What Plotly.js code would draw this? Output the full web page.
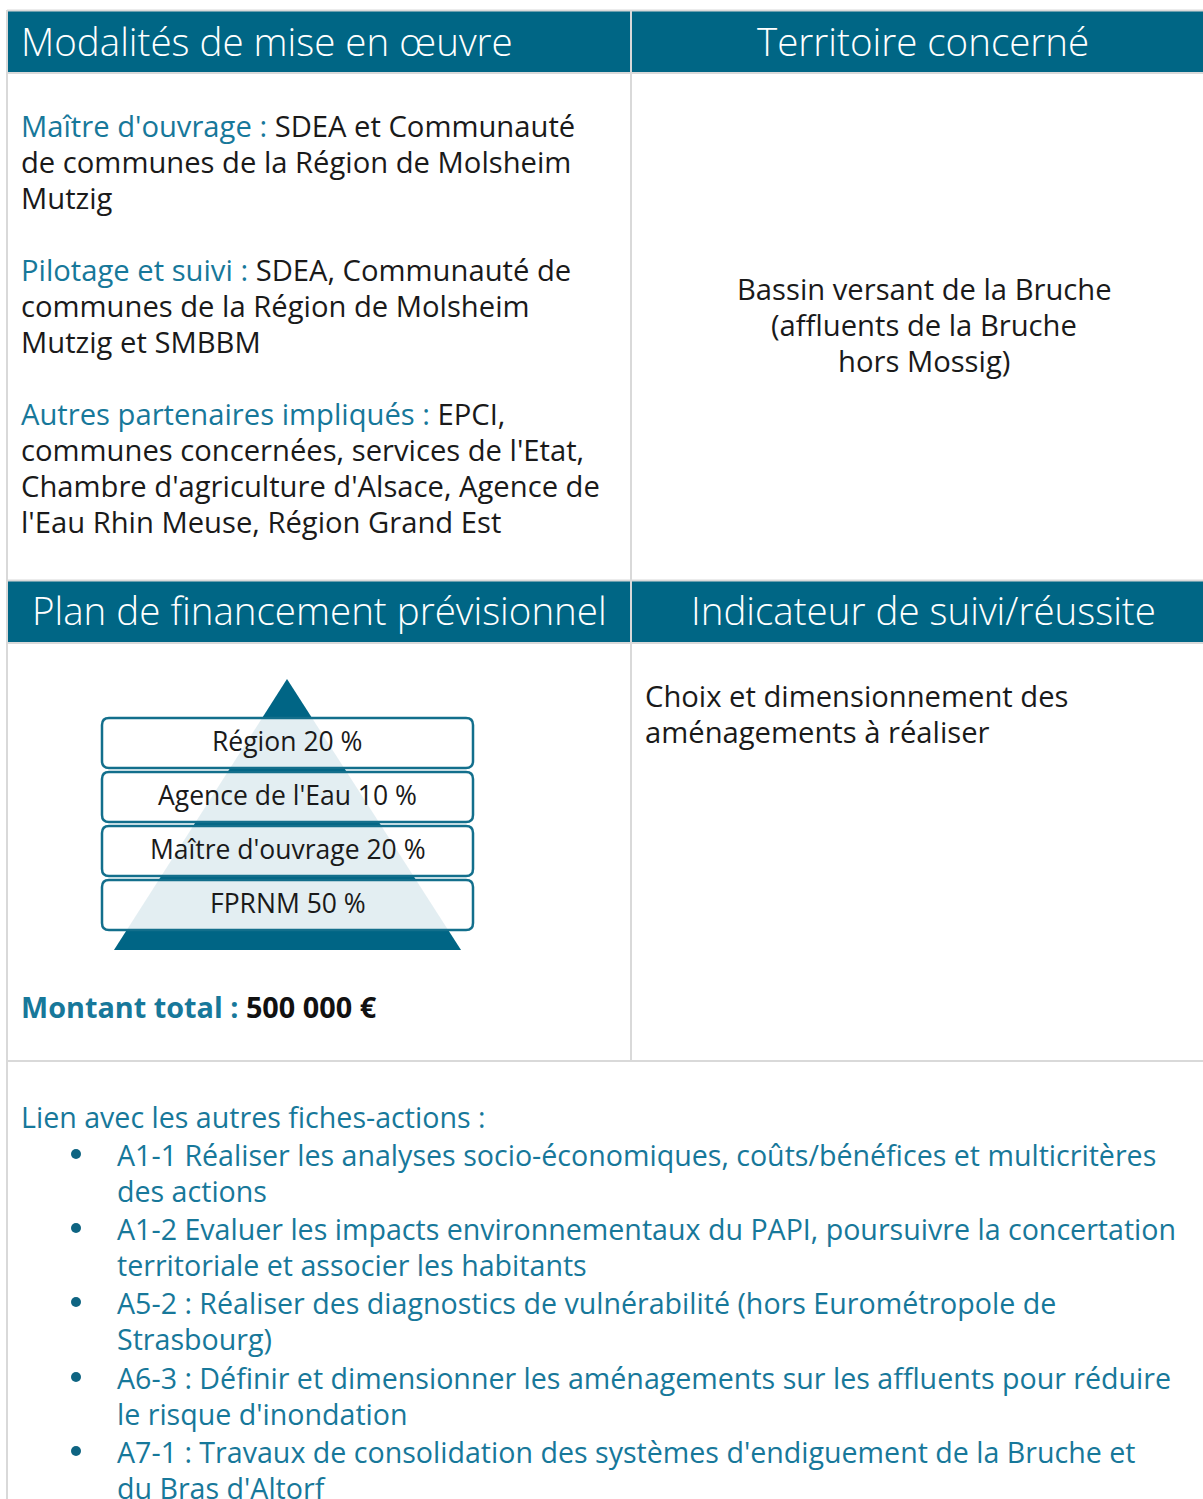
<!DOCTYPE html>
<html>
<head>
<meta charset="utf-8">
<script src="https://cdn.plot.ly/plotly-3.0.1.min.js"></script>
<style>
html,body{margin:0;padding:0;background:#fff;}
#chart{width:1203px;height:1499px;}
</style>
</head>
<body>
<div id="chart"></div>
<script>
// ---- data ----
const funders = ["Région", "Agence de l'Eau", "Maître d'ouvrage", "FPRNM"];
const shares = [20, 10, 20, 50];
const totalAmount = "500 000 €";
const headers = ["Modalités de mise en œuvre", "Territoire concerné", "Plan de financement prévisionnel", "Indicateur de suivi/réussite"];
const roleLabels = ["Maître d'ouvrage :", "Pilotage et suivi :", "Autres partenaires impliqués :"];
const roleTexts = [
  "SDEA et Communauté<br>de communes de la Région de Molsheim<br>Mutzig",
  "SDEA, Communauté de<br>communes de la Région de Molsheim<br>Mutzig et SMBBM",
  "EPCI,<br>communes concernées, services de l'Etat,<br>Chambre d'agriculture d'Alsace, Agence de<br>l'Eau Rhin Meuse, Région Grand Est"
];
const territory = "Bassin versant de la Bruche<br>(affluents de la Bruche<br>hors Mossig)";
const indicator = "Choix et dimensionnement des<br>aménagements à réaliser";
const linksTitle = "Lien avec les autres fiches-actions :";
const links = [
  "A1-1 Réaliser les analyses socio-économiques, coûts/bénéfices et multicritères<br>des actions",
  "A1-2 Evaluer les impacts environnementaux du PAPI, poursuivre la concertation<br>territoriale et associer les habitants",
  "A5-2 : Réaliser des diagnostics de vulnérabilité (hors Eurométropole de<br>Strasbourg)",
  "A6-3 : Définir et dimensionner les aménagements sur les affluents pour réduire<br>le risque d'inondation",
  "A7-1 : Travaux de consolidation des systèmes d'endiguement de la Bruche et<br>du Bras d'Altorf"
];

// ---- style ----
const HEAD = "#006685";
const TEAL = "#17789a";
const GRID = "#d9d9d9";
const FONT = "Open Sans, Lato, sans-serif";
const BODY = 29.2;
const LIST = 28.6;
const LH = 36;
const W = 1203, H = 1499;
const colL = 7, colM = 631;

const shapes = [];
const ann = [];

function rect(x0, y0, x1, y1, fill) {
  shapes.push({type: "rect", xref: "x", yref: "y", x0, y0, x1, y1,
    fillcolor: fill, line: {width: 0}, layer: "above"});
}
function line(x0, y0, x1, y1, c, w) {
  shapes.push({type: "line", xref: "x", yref: "y", x0, y0, x1, y1, line: {color: c, width: w}, layer: "above"});
}
function text(x, y, t, opts) {
  const o = Object.assign({xanchor: "left"}, opts || {});
  const dx = o.xanchor === "left" ? -3 : 0;
  ann.push(Object.assign({xref: "x", yref: "y", x: x + dx, y, text: t, showarrow: false,
    yanchor: "middle", align: "left",
    font: {family: FONT, size: BODY, color: "#1a1a1a"}}, o, {x: x + dx}));
}
function lines(x, y, t, opts) {
  t.split("<br>").forEach((s, i) => { if (s.length) text(x, y + i * LH, s, opts); });
}

// header bars
rect(colL, 11, W + 20, 72, HEAD);
rect(colL, 581, W + 20, 642, HEAD);
// grid lines
line(colL, 10.5, W + 20, 10.5, GRID, 2);
line(colL, 73, W + 20, 73, GRID, 2);
line(colL, 580.5, W + 20, 580.5, GRID, 2);
line(colL, 643, W + 20, 643, GRID, 2);
line(colL, 1061, W + 20, 1061, GRID, 2);
line(colL, 10, colL, H + 10, GRID, 2);
line(colM, 10, colM, 1061, GRID, 2);

// headers
const hFont = {family: FONT, size: 38.5, color: "#ffffff", weight: 300};
text(22, 41, headers[0], {font: hFont});
text(923, 41, headers[1], {font: hFont, xanchor: "center", align: "center"});
text(319, 610, headers[2], {font: hFont, xanchor: "center", align: "center"});
text(923, 610, headers[3], {font: hFont, xanchor: "center", align: "center"});

// body - left top
const blocks = roleLabels.map((l, i) => '<span style="color:' + TEAL + '">' + l + '</span> ' + roleTexts[i]);
lines(22, 126, blocks.join("<br><br>"));
// right top
lines(924, 289, territory, {xanchor: "center", align: "center"});
// right middle
lines(646, 696, indicator);

// pyramid
const apex = [287, 679], baseY = 950, baseL = 114, baseR = 461;
const boxTop = 718, boxH = 50, boxGap = 4, boxL = 102, boxR = 473, rad = 7;
function rrPath(x0, y0, x1, y1, r) {
  return `M ${x0 + r},${y0} L ${x1 - r},${y0} Q ${x1},${y0} ${x1},${y0 + r} L ${x1},${y1 - r} Q ${x1},${y1} ${x1 - r},${y1} L ${x0 + r},${y1} Q ${x0},${y1} ${x0},${y1 - r} L ${x0},${y0 + r} Q ${x0},${y0} ${x0 + r},${y0} Z`;
}
const triPath = `M ${apex[0]},${apex[1]} L ${baseR},${baseY} L ${baseL},${baseY} Z`;
shapes.push({type: "path", xref: "x", yref: "y", path: triPath, fillcolor: HEAD, line: {width: 0}, layer: "above"});
funders.forEach((f, i) => {
  const y0 = boxTop + i * (boxH + boxGap), y1 = y0 + boxH;
  shapes.push({type: "path", xref: "x", yref: "y", path: rrPath(boxL, y0, boxR, y1, rad), fillcolor: "#ffffff", line: {width: 0}, layer: "above"});
});
shapes.push({type: "path", xref: "x", yref: "y", path: triPath, fillcolor: "rgba(0,102,133,0.11)", line: {width: 0}, layer: "above"});
funders.forEach((f, i) => {
  const y0 = boxTop + i * (boxH + boxGap), y1 = y0 + boxH;
  shapes.push({type: "path", xref: "x", yref: "y", path: rrPath(boxL, y0, boxR, y1, rad), fillcolor: "rgba(0,0,0,0)", line: {color: "#136f8c", width: 2.5}, layer: "above"});
  text((boxL + boxR) / 2, (y0 + y1) / 2 - 2, f + " " + shares[i] + " %", {xanchor: "center", align: "center", font: {family: FONT, size: 26.5, color: "#1a1a1a"}});
});

text(22, 1006, '<span style="color:' + TEAL + '"><b>Montant total :</b></span> <b>' + totalAmount + '</b>', {font: {family: FONT, size: 28.8, color: "#111111"}});

// links
text(22, 1116, linksTitle, {font: {family: FONT, size: LIST, color: TEAL}});
const itemY = [1154, 1228, 1302, 1377, 1451];
links.forEach((l, i) => {
  lines(118, itemY[i], l, {font: {family: FONT, size: LIST, color: TEAL}});
  shapes.push({type: "circle", xref: "x", yref: "y", x0: 71, x1: 81, y0: itemY[i] - 5, y1: itemY[i] + 5, fillcolor: "#0e6482", line: {width: 0}, layer: "above"});
});

const layout = {
  width: W, height: H,
  margin: {l: 0, r: 0, t: 0, b: 0},
  paper_bgcolor: "#ffffff", plot_bgcolor: "#ffffff",
  xaxis: {range: [0, W], visible: false, fixedrange: true},
  yaxis: {range: [H, 0], visible: false, fixedrange: true},
  shapes: shapes, annotations: ann, showlegend: false
};
Plotly.newPlot("chart", [{x: [0], y: [0], mode: "markers", marker: {opacity: 0}, hoverinfo: "skip"}], layout, {staticPlot: true});
</script>
</body>
</html>
